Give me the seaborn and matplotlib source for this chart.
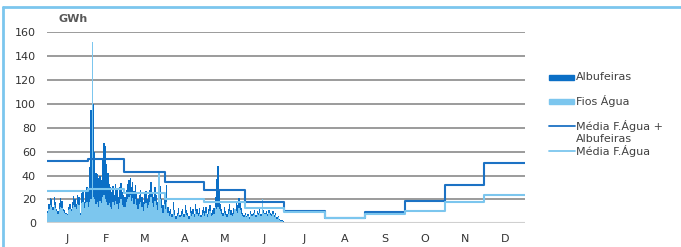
import numpy as np
import pandas as pd
import matplotlib
matplotlib.use("Agg")
import matplotlib.pyplot as plt
from matplotlib.lines import Line2D
from matplotlib.patches import Rectangle
import seaborn as sns

# produção diária (GWh), 1 jan - 30 jun
albufeiras_jan = [10, 16, 21, 20, 14, 22, 18, 12, 10, 17, 21, 19, 12, 11, 9, 8, 14, 16, 12, 18,
                  23, 20, 16, 24, 22, 9, 25, 28, 18, 27, 30]
albufeiras_fev = [28, 47, 95, 101, 100, 60, 42, 41, 38, 40, 36, 55, 67, 65, 50, 42, 33, 30, 26, 31,
                  24, 33, 28, 22, 30, 34, 26, 24]
albufeiras_mar = [22, 28, 33, 36, 38, 30, 35, 27, 32, 25, 20, 24, 28, 22, 18, 25, 27, 20, 24, 28,
                  35, 26, 22, 30, 24, 18, 28, 31, 20, 15, 26]
albufeiras_abr = [20, 32, 14, 10, 12, 8, 18, 11, 6, 9, 13, 7, 10, 12, 8, 15, 11, 9, 6, 14,
                  10, 12, 8, 16, 12, 9, 13, 7, 11, 14]
albufeiras_mai = [10, 14, 8, 12, 15, 9, 11, 13, 22, 37, 48, 28, 16, 12, 9, 14, 10, 8, 12, 16,
                  11, 9, 13, 12, 17, 15, 21, 18, 13, 9, 7]
albufeiras_jun = [9, 6, 8, 5, 10, 8, 9, 11, 7, 10, 9, 12, 8, 10, 11, 9, 10, 8, 11, 9,
                  8, 10, 7, 9, 5, 6, 4, 3, 3, 2]

fios_jan = [9, 12, 15, 14, 11, 15, 13, 10, 8, 12, 14, 13, 10, 9, 8, 7, 11, 12, 10, 13,
            15, 14, 12, 16, 15, 7, 17, 18, 13, 17, 18]
fios_fev = [14, 18, 20, 152, 22, 20, 16, 18, 14, 19, 17, 22, 24, 20, 18, 15, 17, 14, 12, 18,
            15, 19, 16, 12, 17, 20, 15, 14]
fios_mar = [14, 18, 20, 22, 24, 19, 21, 16, 20, 15, 12, 16, 18, 14, 10, 16, 17, 13, 15, 18,
            22, 17, 14, 19, 15, 11, 42, 20, 13, 9, 16]
fios_abr = [12, 18, 9, 6, 8, 5, 11, 7, 4, 6, 8, 5, 6, 8, 5, 9, 7, 6, 4, 9,
            6, 8, 5, 10, 8, 6, 8, 5, 7, 9]
fios_mai = [6, 9, 5, 8, 10, 6, 7, 8, 14, 12, 14, 12, 10, 8, 6, 9, 7, 5, 8, 10,
            7, 6, 8, 12, 10, 9, 13, 11, 8, 6, 5]
fios_jun = [7, 5, 6, 4, 8, 6, 7, 9, 5, 8, 7, 9, 6, 20, 9, 8, 8, 6, 9, 7,
            6, 8, 5, 7, 4, 5, 3, 2, 2, 1]

# médias mensais
meses = ["J", "F", "M", "A", "M", "J", "J", "A", "S", "O", "N", "D"]
dias_mes = [31, 28, 31, 30, 31, 30, 31, 31, 30, 31, 30, 31]
media_total = [52.2, 53.8, 42.7, 34.9, 27.9, 17.8, 10.3, 4.7, 9.2, 18.4, 31.8, 50.2]
media_fios = [26.8, 28.7, 25.6, 20.3, 17.8, 13.1, 9.6, 4.7, 7.5, 10.3, 17.5, 23.4]

albufeiras = albufeiras_jan + albufeiras_fev + albufeiras_mar + albufeiras_abr + albufeiras_mai + albufeiras_jun
fios = fios_jan + fios_fev + fios_mar + fios_abr + fios_mai + fios_jun

cor_alb = "#0B6FC6"
cor_fios = "#7CC6EE"

sns.set_style("white")
plt.rcParams["font.family"] = ["DejaVu Sans"]

fig = plt.figure(figsize=(6.81, 2.47), dpi=100)
ax = fig.add_axes([0.069, 0.096, 0.702, 0.773])

# áreas diárias
dia = np.arange(len(albufeiras) + 1)
ax.fill_between(dia, albufeiras + [albufeiras[-1]], step="post", color=cor_alb, lw=0, zorder=2)
ax.fill_between(dia, fios + [fios[-1]], step="post", color=cor_fios, lw=0, zorder=3)

# médias mensais em degraus
inicio = np.concatenate([[0], np.cumsum(dias_mes)])
medias = pd.DataFrame({
    "dia": np.concatenate([inicio, inicio]),
    "valor": media_total + [media_total[-1]] + media_fios + [media_fios[-1]],
    "serie": ["total"] * 13 + ["fios"] * 13,
})
sns.lineplot(data=medias[medias.serie == "total"], x="dia", y="valor", drawstyle="steps-post",
             color="#1C72C4", lw=1.5, ax=ax, zorder=4)
sns.lineplot(data=medias[medias.serie == "fios"], x="dia", y="valor", drawstyle="steps-post",
             color="#7CC6EE", lw=1.5, ax=ax, zorder=5)

ax.set_xlim(0, 365)
ax.set_ylim(0, 160)
ax.set_yticks(range(0, 161, 20))
ax.set_xticks((inicio[:-1] + inicio[1:]) / 2)
ax.set_xticklabels(meses)
ax.set_xlabel("")
ax.set_ylabel("")
ax.tick_params(axis="both", length=0, labelsize=8, colors="#333333", pad=8)
for y in range(20, 161, 20):
    ax.axhline(y, color="#808080", lw=1.1, zorder=1)
ax.axhline(0, color="#D0D0D0", lw=1.5, zorder=6)
for s in ax.spines.values():
    s.set_visible(False)

ax.text(0.025, 1.045, "GWh", transform=ax.transAxes, fontsize=8, color="#595959",
        fontweight="bold", va="bottom", ha="left")

# legenda
W, H = 681, 247
def fx(x):
    return x / W
def fy(y):
    return 1 - y / H

fig.add_artist(Rectangle((fx(549), fy(80)), fx(25), 5 / H, color=cor_alb, transform=fig.transFigure))
fig.add_artist(Rectangle((fx(549), fy(104)), fx(25), 5 / H, color=cor_fios, transform=fig.transFigure))
fig.add_artist(Line2D([fx(549), fx(575)], [fy(126), fy(126)], color="#1C72C4", lw=1.3, transform=fig.transFigure))
fig.add_artist(Line2D([fx(549), fx(575)], [fy(151), fy(151)], color="#7CC6EE", lw=1.3, transform=fig.transFigure))
legenda = [("Albufeiras", 77), ("Fios Água", 101), ("Média F.Água +", 126), ("Albufeiras", 139), ("Média F.Água", 151)]
for txt, y in legenda:
    fig.text(fx(576), fy(y), txt, fontsize=8, color="#404040", va="center", ha="left")

# moldura
fig.add_artist(Line2D([fx(3), 1], [fy(7), fy(7)], color="#7CC6EE", lw=2, transform=fig.transFigure))
fig.add_artist(Line2D([fx(3), fx(3)], [fy(7), 0], color="#7CC6EE", lw=2, transform=fig.transFigure))

fig.savefig("out.png", dpi=100)
